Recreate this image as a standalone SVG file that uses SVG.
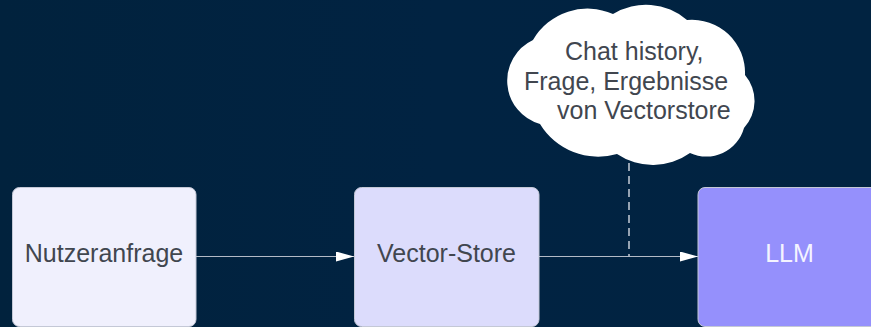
<svg xmlns="http://www.w3.org/2000/svg" width="871" height="327" viewBox="0 0 871 327">
  <defs>
    <marker id="arrow" viewBox="0 0 18 10" markerWidth="18" markerHeight="10" refX="18" refY="5" orient="auto" markerUnits="userSpaceOnUse">
      <path d="M0,0 L18,5 L0,10 Z" fill="#ffffff"/>
    </marker>
    <linearGradient id="bg" x1="0" y1="0" x2="1" y2="0">
      <stop offset="0" stop-color="#01223d"/>
      <stop offset="0.5" stop-color="#012342"/>
      <stop offset="1" stop-color="#012341"/>
    </linearGradient>
  </defs>
  <style>
    .node { stroke: #c4c8d6; stroke-width: 1; }
    .label { font-family: "Liberation Sans", Arial, sans-serif; font-size: 25px; fill: #41464f; }
    .edge { stroke: #b3bac6; stroke-width: 1; fill: none; }
    .dash { stroke: #c8ced8; stroke-width: 1.5; stroke-dasharray: 8 5; fill: none; }
  </style>

  <rect x="0" y="0" width="871" height="327" fill="url(#bg)"/>

  <g id="connectors">
    <line class="edge" x1="196" y1="256.5" x2="354" y2="256.5" marker-end="url(#arrow)"/>
    <line class="edge" x1="539" y1="256.5" x2="698" y2="256.5" marker-end="url(#arrow)"/>
    <line class="dash" x1="629" y1="163" x2="629" y2="256"/>
  </g>

  <g id="nutzeranfrage">
    <rect class="node" x="12.5" y="187.5" width="183.5" height="139" rx="7" fill="#f0f0fd"/>
    <text class="label" x="104" y="262" text-anchor="middle">Nutzeranfrage</text>
  </g>

  <g id="vector-store">
    <rect class="node" x="354.5" y="187.5" width="184.5" height="139" rx="7" fill="#dcdcfc"/>
    <text class="label" x="446.5" y="262" text-anchor="middle">Vector-Store</text>
  </g>

  <g id="llm">
    <rect class="node" x="698" y="187.5" width="184" height="139" rx="7" fill="#9590fc" stroke="#cfcff5"/>
    <text class="label" x="789.5" y="262" text-anchor="middle" style="fill:#f4f4ff">LLM</text>
  </g>

  <g id="context-cloud">
    <path d="M533,40 A63,63 0 0 1 613,14 A63,63 0 0 1 687,20 A53,53 0 0 1 745,75 A40,40 0 0 1 744,128 A39,39 0 0 1 690,153 A64,64 0 0 1 617,154 A68,68 0 0 1 540,124 A45,45 0 0 1 533,40 Z" fill="#ffffff"/>
    <text class="label" x="565" y="59.5">Chat history,</text>
    <text class="label" x="524" y="89.5">Frage, Ergebnisse</text>
    <text class="label" x="557" y="119">von Vectorstore</text>
  </g>
</svg>
